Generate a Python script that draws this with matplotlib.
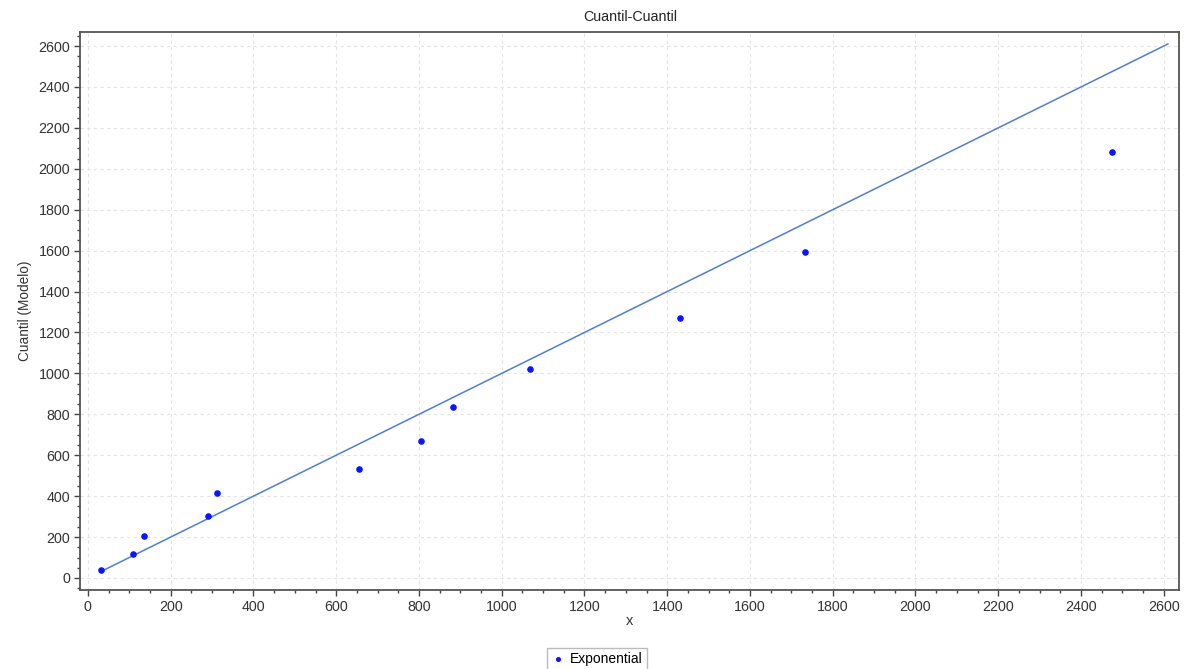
import matplotlib
matplotlib.use("Agg")
import matplotlib.pyplot as plt
import numpy as np
from matplotlib.ticker import MultipleLocator

plt.rcParams['font.family'] = ['Liberation Sans', 'DejaVu Sans']

# data
x_vals = [31, 109, 135, 289, 312, 655, 805, 882, 1068, 1431, 1733, 2475]
model_q = [39, 117, 207, 303, 414, 533, 670, 836, 1021, 1271, 1593, 2082]
line_x = [33, 2610]
series_name = "Exponential"

fig = plt.figure(figsize=(11.95, 6.69), dpi=100)
ax = fig.add_axes([0.067, 0.118, 0.920, 0.834])

ax.plot(line_x, line_x, color='#4f7fd0', lw=1.1, zorder=2)
ax.scatter(x_vals, model_q, s=14, color='#0a14ff', zorder=3, label=series_name)

ax.set_xlim(-19, 2638)
ax.set_ylim(-59, 2668)
ax.xaxis.set_major_locator(MultipleLocator(200))
ax.yaxis.set_major_locator(MultipleLocator(200))
ax.xaxis.set_minor_locator(MultipleLocator(50))
ax.yaxis.set_minor_locator(MultipleLocator(50))
ax.grid(True, which='major', color='#e4e4e4', ls=(0, (3, 3)), lw=0.8)
ax.tick_params(which='major', direction='out', length=4, width=1, color='#444444',
               labelsize=10.3, labelcolor='#333333', top=False, right=False, pad=3)
ax.tick_params(which='minor', direction='out', length=2.5, width=1, color='#444444',
               top=False, right=False)
for s in ax.spines.values():
    s.set_color('#555555')
    s.set_linewidth(1.3)

ax.set_title("Cuantil-Cuantil", fontsize=10.3, color='#222222', pad=8)
ax.set_xlabel("x", fontsize=10.5, color='#333333', labelpad=0)
ax.set_ylabel("Cuantil (Modelo)", fontsize=9.8, color='#333333', labelpad=5)

leg = ax.legend(loc='upper center', bbox_to_anchor=(0.47, -0.091), frameon=True,
                fancybox=False, edgecolor='#aaaaaa', fontsize=10,
                handletextpad=0.4, borderpad=0.3, markerscale=0.7, handlelength=1.0)
leg.get_frame().set_linewidth(1.0)

fig.savefig("out.png", dpi=100)
